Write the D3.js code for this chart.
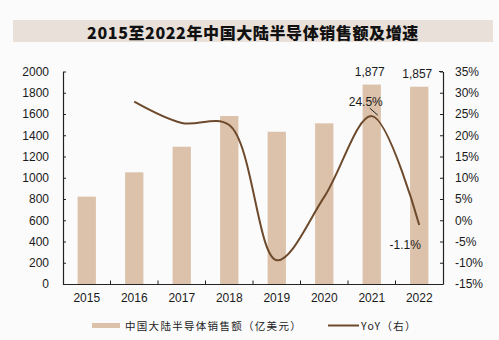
<!DOCTYPE html>
<html>
<head>
<meta charset="utf-8">
<script src="https://cdn.jsdelivr.net/npm/d3@7/dist/d3.min.js"></script>
<style>
  html, body { margin: 0; padding: 0; background: #fbfbfc; }
  svg { display: block; }
  .tick text { font-family: "Liberation Sans", Arial, sans-serif; font-size: 12px; fill: #1a1a1a; }
</style>
</head>
<body>
<svg id="chart" width="499" height="340"></svg>
<script>
// Data
const years = ["2015", "2016", "2017", "2018", "2019", "2020", "2021", "2022"];
const sales = [822, 1051, 1292, 1581, 1433, 1512, 1877, 1857];          // 亿美元
const yoy = [null, 27.9, 22.9, 22.4, -9.4, 5.5, 24.5, -1.1];             // %
const leftTicks = [0, 200, 400, 600, 800, 1000, 1200, 1400, 1600, 1800, 2000];
const rightTicks = [-15, -10, -5, 0, 5, 10, 15, 20, 25, 30, 35];
const labeledBars = ["2021", "2022"];
const labeledYoy = ["2021", "2022"];

const title = "2015至2022年中国大陆半导体销售额及增速";
const legendBar = "中国大陆半导体销售额（亿美元）";
const legendLine = "YoY（右）";

const barColor = "#dcc2aa";
const lineColor = "#6e4a2c";
const axisColor = "#222";

// Plain hyphen for negatives
const pct = (v, digits) => (v < 0 ? "-" : "") + Math.abs(v).toFixed(digits) + "%";

const svg = d3.select("#chart");

// Title banner
svg.append("rect")
  .attr("x", 13).attr("y", 20).attr("width", 480).attr("height", 22)
  .attr("fill", "#e8e0d9");
svg.append("text")
  .attr("x", 253).attr("y", 31.5)
  .attr("text-anchor", "middle").attr("dominant-baseline", "central")
  .style("font-family", "'Noto Sans CJK SC', sans-serif")
  .style("font-weight", "900").style("font-size", "16px")
  .style("letter-spacing", "0.6px")
  .attr("fill", "#111")
  .text(title);

// Scales
const x = d3.scaleBand().domain(years).range([63, 443]);
const yL = d3.scaleLinear().domain([0, 2000]).range([284, 71.5]);
const yR = d3.scaleLinear().domain([-15, 35]).range([284, 71.5]);
const barW = x.bandwidth() * 0.385;

// Bars
svg.append("g").selectAll("rect")
  .data(years.map((y, i) => ({ year: y, v: sales[i] })))
  .join("rect")
  .attr("x", d => x(d.year) + (x.bandwidth() - barW) / 2)
  .attr("y", d => yL(d.v))
  .attr("width", barW)
  .attr("height", d => yL(0) - yL(d.v))
  .attr("fill", barColor);

// Left axis
const gL = svg.append("g").attr("transform", "translate(63,0)")
  .call(d3.axisLeft(yL).tickValues(leftTicks).tickFormat(d3.format("d"))
    .tickSizeInner(-3).tickSizeOuter(0).tickPadding(14));
// Right axis
const gR = svg.append("g").attr("transform", "translate(443,0)")
  .call(d3.axisRight(yR).tickValues(rightTicks).tickFormat(d => pct(d, 0))
    .tickSizeInner(-3).tickSizeOuter(0).tickPadding(12));
// Bottom axis
const gB = svg.append("g").attr("transform", "translate(0,284)")
  .call(d3.axisBottom(x).tickSize(0).tickPadding(9));
// Category separators on the x axis
svg.append("g").selectAll("line")
  .data(years.slice(1))
  .join("line")
  .attr("x1", d => x(d)).attr("x2", d => x(d))
  .attr("y1", 284).attr("y2", 280.5)
  .attr("stroke", axisColor);

[gL, gR, gB].forEach(g => {
  g.selectAll(".domain").attr("stroke", axisColor).attr("stroke-width", 1.2);
  g.selectAll(".tick line").attr("stroke", axisColor);
});
gR.append("line").attr("x1", 0).attr("x2", -4).attr("y1", 71.5).attr("y2", 71.5).attr("stroke", axisColor);

// YoY smoothed line
const pts = years.map((y, i) => ({ year: y, v: yoy[i] })).filter(d => d.v !== null);
const cx = d => x(d.year) + x.bandwidth() / 2;
const line = d3.line()
  .x(cx)
  .y(d => yR(d.v))
  .curve(d3.curveCatmullRom.alpha(0.5));
svg.append("path")
  .datum(pts)
  .attr("d", line)
  .attr("fill", "none")
  .attr("stroke", lineColor)
  .attr("stroke-width", 2);

// Value labels for bars
const numFmt = d3.format(",");
svg.append("g").selectAll("text")
  .data(years.map((y, i) => ({ year: y, v: sales[i] })).filter(d => labeledBars.includes(d.year)))
  .join("text")
  .attr("x", d => cx(d) - 2)
  .attr("y", d => yL(d.v) - 9)
  .attr("text-anchor", "middle")
  .style("font-family", "'Liberation Sans', Arial, sans-serif")
  .style("font-size", "12px")
  .attr("fill", "#1a1a1a")
  .text(d => numFmt(d.v));

// YoY labels
const yoyLab = pts.filter(d => labeledYoy.includes(d.year));
const labelPos = {
  "2021": d => ({ x: cx(d) - 6, y: yR(d.v) - 14 }),
  "2022": d => ({ x: cx(d) - 14, y: yR(d.v) + 20 })
};
svg.append("g").selectAll("text")
  .data(yoyLab)
  .join("text")
  .attr("x", d => labelPos[d.year](d).x)
  .attr("y", d => labelPos[d.year](d).y)
  .attr("text-anchor", "middle")
  .attr("dominant-baseline", "central")
  .style("font-family", "'Liberation Sans', Arial, sans-serif")
  .style("font-size", "12px")
  .attr("fill", "#1a1a1a")
  .text(d => pct(d.v, 1));
// Leader for the peak label
const peak = yoyLab.find(d => d.year === "2021");
svg.append("line")
  .attr("x1", cx(peak) - 2).attr("y1", yR(peak.v) - 8)
  .attr("x2", cx(peak) + 6).attr("y2", yR(peak.v) - 1)
  .attr("stroke", "#222").attr("stroke-width", 1);

// Legend
const lg = svg.append("g");
lg.append("rect").attr("x", 92).attr("y", 323).attr("width", 28).attr("height", 5).attr("fill", barColor);
lg.append("text").attr("x", 125).attr("y", 325.5)
  .attr("dominant-baseline", "central")
  .style("font-family", "'Noto Sans CJK SC', sans-serif")
  .style("font-size", "10.5px").style("letter-spacing", "1.3px")
  .attr("fill", "#222")
  .text(legendBar);
lg.append("line").attr("x1", 328).attr("x2", 359).attr("y1", 325.5).attr("y2", 325.5)
  .attr("stroke", lineColor).attr("stroke-width", 2);
lg.append("text").attr("x", 361).attr("y", 325.5)
  .attr("dominant-baseline", "central")
  .style("font-family", "'Noto Sans CJK SC', sans-serif")
  .style("font-size", "10.5px").style("letter-spacing", "1.3px")
  .attr("fill", "#222")
  .text(legendLine);
</script>
</body>
</html>
